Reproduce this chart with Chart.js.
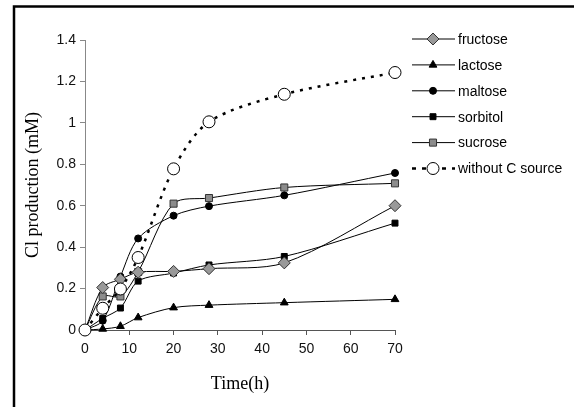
<!DOCTYPE html>
<html>
<head>
<meta charset="utf-8">
<script src="https://cdn.jsdelivr.net/npm/chart.js@4.4.0/dist/chart.umd.min.js"></script>
<style>
  html, body { margin: 0; padding: 0; background: #fff; }
  #wrap { width: 574px; height: 407px; position: relative; }
</style>
</head>
<body>
<div id="wrap"><canvas id="c"></canvas></div>
<script>
// Cl production (mM) against time (h), per carbon source
const hours     = [0, 4, 8, 12, 20, 28, 45, 70];
const fructose  = [0, 0.205, 0.245, 0.279, 0.283, 0.296, 0.324, 0.600];
const lactose   = [0, 0.005, 0.018, 0.060, 0.108, 0.120, 0.132, 0.148];
const maltose   = [0, 0.045, 0.258, 0.442, 0.552, 0.598, 0.650, 0.758];
const sorbitol  = [0, 0.056, 0.106, 0.236, 0.275, 0.314, 0.355, 0.516];
const sucrose   = [0, 0.162, 0.162, 0.280, 0.610, 0.637, 0.688, 0.708];
const withoutC  = [0, 0.105, 0.198, 0.350, 0.778, 1.005, 1.138, 1.243];
const seriesNames = ['fructose', 'lactose', 'maltose', 'sorbitol', 'sucrose', 'without C source'];

const TICK_FONT = { family: 'Liberation Sans', size: 14 };
const TITLE_FONT = { family: 'Liberation Serif', size: 18 };

// ── marker styles ──────────────────────────────────────────────────────────
const markers = [
  { pointStyle: 'rectRot',  radius: 6,   fill: '#999999', line: '#333' },
  { pointStyle: 'triangle', radius: 4.5, fill: '#000',    line: '#000' },
  { pointStyle: 'circle',   radius: 3.5, fill: '#000',    line: '#000' },
  { pointStyle: 'rect',     radius: 4.2, fill: '#000',    line: '#000' },
  { pointStyle: 'rect',     radius: 5,   fill: '#8c8c8c', line: '#333' },
  { pointStyle: 'circle',   radius: 6,   fill: '#fff',    line: '#000' },
];

const values = [fructose, lactose, maltose, sorbitol, sucrose, withoutC];

const datasets = values.map((vals, i) => {
  const m = markers[i];
  const dashed = i === 5;
  return {
    label: seriesNames[i],
    data: vals.map((v, k) => ({ x: hours[k], y: v })),
    borderColor: '#000',
    borderWidth: dashed ? 2.5 : 1,
    borderDash: dashed ? [3, 6] : [],
    borderCapStyle: 'butt',
    tension: 0.3,
    pointStyle: m.pointStyle,
    pointRadius: m.radius,
    pointBackgroundColor: m.fill,
    pointBorderColor: m.line,
    pointBorderWidth: 1,
    pointHoverRadius: m.radius,
    clip: false,
    order: dashed ? 0 : 1,
  };
});

// ── outer frame + legend, drawn by hand ────────────────────────────────────
const framePlugin = {
  id: 'frame',
  beforeDraw(chart) {
    const ctx = chart.ctx;
    ctx.save();
    ctx.strokeStyle = '#000';
    ctx.lineWidth = 2.5;
    ctx.strokeRect(14, 6.5, 700, 600);
    ctx.restore();
  },
  afterDraw(chart) {
    const ctx = chart.ctx;
    const x0 = 412, x1 = 455, xm = 433, textX = 458;
    ctx.save();
    seriesNames.forEach((name, i) => {
      const y = 39 + i * 25.9;
      const m = markers[i];
      ctx.strokeStyle = '#000';
      if (i === 5) {
        ctx.lineWidth = 2.5;
        ctx.setLineDash([4, 6]);
      } else {
        ctx.lineWidth = 1;
        ctx.setLineDash([]);
      }
      ctx.beginPath();
      ctx.moveTo(x0, y);
      ctx.lineTo(x1, y);
      ctx.stroke();
      ctx.setLineDash([]);
      ctx.fillStyle = m.fill;
      ctx.strokeStyle = m.line;
      ctx.lineWidth = 1;
      Chart.helpers.drawPoint(ctx, { pointStyle: m.pointStyle, radius: m.radius, rotation: 0, borderWidth: 1 }, xm, y);
      ctx.fillStyle = '#000';
      ctx.font = '14px "Liberation Sans"';
      ctx.textBaseline = 'middle';
      ctx.textAlign = 'left';
      ctx.fillText(name, textX, y + 1);
    });
    ctx.restore();
  }
};

new Chart(document.getElementById('c'), {
  type: 'line',
  data: { datasets },
  plugins: [framePlugin],
  options: {
    responsive: true,
    maintainAspectRatio: false,
    animation: false,
    layout: { padding: { left: 22, top: 40, right: 179, bottom: 12 } },
    plugins: {
      legend: { display: false },
      tooltip: { enabled: false },
    },
    scales: {
      x: {
        type: 'linear',
        min: 0, max: 70,
        ticks: { stepSize: 10, color: '#111', font: TICK_FONT, padding: 6 },
        grid: { display: true, drawOnChartArea: false, drawTicks: true, tickLength: 5, color: '#555' },
        border: { display: true, color: '#555', width: 1 },
        title: { display: true, text: 'Time(h)', color: '#000', font: TITLE_FONT, padding: { top: 4, bottom: 0 } },
        afterFit: s => { s.height = 65; },
      },
      y: {
        min: 0, max: 1.4,
        ticks: {
          stepSize: 0.2, color: '#111', font: TICK_FONT, padding: 4,
          callback: v => String(Number(v.toFixed(1))),
        },
        grid: { display: true, drawOnChartArea: false, drawTicks: true, tickLength: 5, color: '#888' },
        border: { display: true, color: '#888', width: 1 },
        title: { display: true, text: 'Cl production (mM)', color: '#000', font: TITLE_FONT, padding: { top: 0, bottom: 0 } },
        afterFit: s => { s.width = 63; },
      },
    },
  },
});
</script>
</body>
</html>
